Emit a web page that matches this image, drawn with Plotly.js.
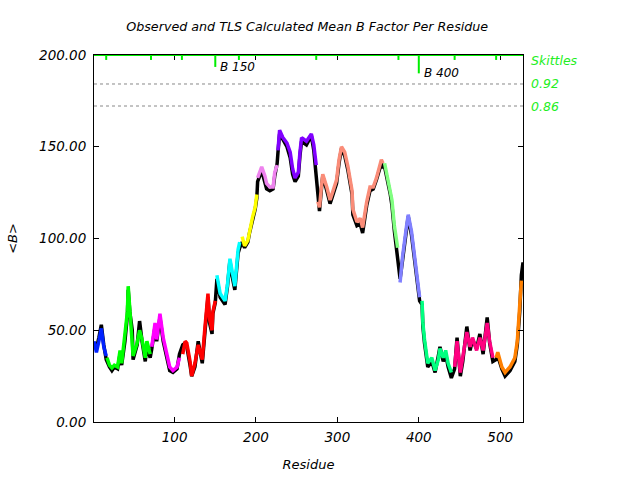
<!DOCTYPE html>
<html>
<head>
<meta charset="utf-8">
<script src="https://cdn.plot.ly/plotly-3.0.1.min.js"></script>
<style>html,body{margin:0;padding:0;background:#fff;}#chart{width:640px;height:480px;}</style>
</head>
<body>
<div id="chart"></div>
<script>
// Observed mean B factor per residue (black)
const obsRes = [1,4,7,10,13,16,20,23,26,30,33,35,39,42,43,45,48,49,54,57,60,64,66,70,72,76,78,82,86,91,94,98,103,106,110,113,115,119,121,125,129,134,137,140,141,143,146,147,150,152,156,162,165,168,170,174,178,180,183,186,190,192,196,199,201,202,207,211,213,217,221,223,226,227,229,233,238,242,245,248,252,254,256,262,268,271,274,276,278,281,282,287,291,294,299,302,305,309,313,318,319,324,328,331,336,340,344,348,354,356,358,365,367,370,374,377,380,385,387,391,395,399,401,404,405,407,411,416,420,424,426,430,433,436,440,444,447,451,454,459,463,466,471,475,479,484,487,491,495,497,502,506,512,518,521,524,526,528];
const obsB = [42,40,46,53,42,34,30,28,30,29,37,31,44,58,72,60,50,34,42,55,44,33,42,35,40,52,44,57,44,35,28,27,29,37,42,43,41,31,25,30,44,32,49,63,68,54,48,59,65,78,68,64,74,88,81,72,92,95,98,95,98,103,110,116,122,131,137,131,127,126,127,134,141,147,157,154,150,144,135,131,134,145,153,151,156,148,135,122,115,130,134,126,119,123,130,141,149,145,137,124,113,107,108,103,118,126,127,132,141,139,139,124,118,104,90,78,88,105,112,102,88,72,66,64,52,43,30,33,27,36,41,33,37,30,24,29,46,25,33,52,39,45,40,48,37,57,43,33,34,36,29,25,28,33,42,60,80,87];

// TLS calculated mean B factor per residue (coloured by TLS group)
const calcRes = [1,4,7,10,13,16, 17,20,23,26,30,33,35,39,42,43,45,48,49,54,57,60,64,66,70, 72,76,78,82,86,91,94,98,103,106, 110,113,115,119,121,125,129,134,137,140,141,143,146,147,150, 152,156,162,165,168,170,174,178,180, 183,186,190,192,196,199,201, 202,207,211,213,217,221,223,226, 227,229,233,238,242,245,248,252,254,256,262,268,271,274, 276,278,281,282,287,291,294,299,302,305,309,313,318,319,324,328,331,336,340,344,348,354,356, 358,365,367,370,374, 377,380,385,387,391,395,399,401, 404,405,407,411,416,420,424,426,430,433,436,440, 444,447,451,454,459,463,466,471,475,479,484,487,491, 495,497,502,506,512,518,521,524,526];
const calcB = [44,38,44,51,41,36, 35,31,29.5,31,30,39,32,46,60,74,62,48,36,43,50,45,35,44,37, 41,54,45,59,46,37,30,28,30,35, 37,44,43,33,25,32,42,34,50,62,70,56,50,60,66, 80,70,66,75,89,83,74,94,98, 101,96,99,104,112,117,124, 133,139,134,130,128,128,136,140, 148,159,155,152,147,138,133,136,147,155,153,157,151,140, 120,117,131,135,128,121,125,132,143,150,147,139,126,116,109,111,106,120,128,128,133,143,141, 141,126,121,107,95, 76,90,107,113,104,90,74,68, 66,54,45,32,35,28,34,40,35,39,32,27, 30,44,27,35,49,41,46,39,46,39,54,44,35, 35,38,30,27,30,35,44,62,77];

// TLS group first residues and colours
const groupStart = [1,17,71,108,151,181,202,227,275,357,376,403,444,495];
const groupColors = ['#0022ff','#00ff00','#ff00ff','#ff0000','#00ffff','#ffff00','#ee82ee','#8000ff','#fa8c78','#80ff80','#8080ff','#00ff80','#ff0080','#ff8000'];

// Skittles markers (residues) on the top edge
const skittleRes = [16,71,109,179,274,375,444,495];
const labelRes = [150,400];
const labelText = ['B 150','B 400'];
const labelLen = [6.5,10];
const skittleLevels = [184.2,172.2];
const skittleLabels = ['0.92','0.86'];

const F = 'DejaVu Sans';
const traces = [{
  x: obsRes, y: obsB, mode:'lines', line:{color:'#000000', width:3.5}, hoverinfo:'skip'
}];
for (let g = 0; g < groupStart.length; g++) {
  const lo = groupStart[g];
  const hi = g + 1 < groupStart.length ? groupStart[g+1] : 10000;
  const xs = [], ys = [];
  for (let i = 0; i < calcRes.length; i++) {
    if (calcRes[i] >= lo && calcRes[i] < hi) { xs.push(calcRes[i]); ys.push(calcB[i]); }
  }
  traces.push({x: xs, y: ys, mode:'lines', line:{color: groupColors[g], width:3.5}, hoverinfo:'skip'});
}

const shapes = [];
skittleLevels.forEach(v => shapes.push({type:'line', xref:'paper', x0:0, x1:1, yref:'y', y0:v, y1:v, line:{color:'#888888', width:1, dash:'dot'}}));
skittleRes.forEach(r => shapes.push({type:'line', xref:'x', x0:r, x1:r, yref:'y', y0:200, y1:197.3, line:{color:'#00ee00', width:2}}));
labelRes.forEach((r,i) => shapes.push({type:'line', xref:'x', x0:r, x1:r, yref:'y', y0:200, y1:200-labelLen[i], line:{color:'#00ee00', width:2}}));
shapes.push({type:'line', xref:'paper', x0:0, x1:1, yref:'y', y0:200, y1:200, line:{color:'#00ee00', width:2}});

const annotations = [];
labelRes.forEach((r,i) => annotations.push({x:r, y:200-labelLen[i], xref:'x', yref:'y', text:labelText[i], showarrow:false, xanchor:'left', yanchor:'middle', xshift:3, font:{family:F, size:12, color:'#000', style:'italic'}}));
annotations.push({x:1, y:200, xref:'paper', yref:'y', text:'Skittles', showarrow:false, xanchor:'left', yanchor:'middle', xshift:6, yshift:-5, font:{family:F, size:12.5, color:'#22ee22', style:'italic'}});
skittleLevels.forEach((v,i) => annotations.push({x:1, y:v, xref:'paper', yref:'y', text:skittleLabels[i], showarrow:false, xanchor:'left', yanchor:'middle', xshift:6, font:{family:F, size:12.5, color:'#22ee22', style:'italic'}}));

const layout = {
  width:640, height:480,
  margin:{l:94, r:117, t:55, b:58},
  paper_bgcolor:'#ffffff', plot_bgcolor:'#ffffff',
  showlegend:false,
  title:{text:'Observed and TLS Calculated Mean B Factor Per Residue', x:0.48, xanchor:'center', y:0.944, yanchor:'middle', font:{family:F, size:12.7, color:'#000', style:'italic'}},
  xaxis:{range:[1,528], tickvals:[100,200,300,400,500], ticktext:['100','200','300','400','500'], ticks:'inside', ticklen:5, tickcolor:'#000', showline:true, linecolor:'#000', linewidth:1, mirror:'ticks', showgrid:false, zeroline:false,
    ticklabelstandoff:3,
    tickfont:{family:F, size:13.5, color:'#000', style:'italic'},
    title:{text:'Residue', font:{family:F, size:13, color:'#000', style:'italic'}, standoff:15}},
  yaxis:{range:[0,200], tickvals:[0,50,100,150,200], ticktext:['0.00','50.00','100.00','150.00','200.00'], ticks:'inside', ticklen:5, tickcolor:'#000', showline:true, linecolor:'#000', linewidth:1, mirror:'ticks', showgrid:false, zeroline:false,
    ticklabelstandoff:4,
    tickfont:{family:F, size:13.5, color:'#000', style:'italic'},
    title:{text:'&lt;B&gt;', font:{family:F, size:13, color:'#000', style:'italic'}, standoff:18}},
  shapes: shapes,
  annotations: annotations
};
Plotly.newPlot('chart', traces, layout, {staticPlot:true, displayModeBar:false});
</script>
</body>
</html>
